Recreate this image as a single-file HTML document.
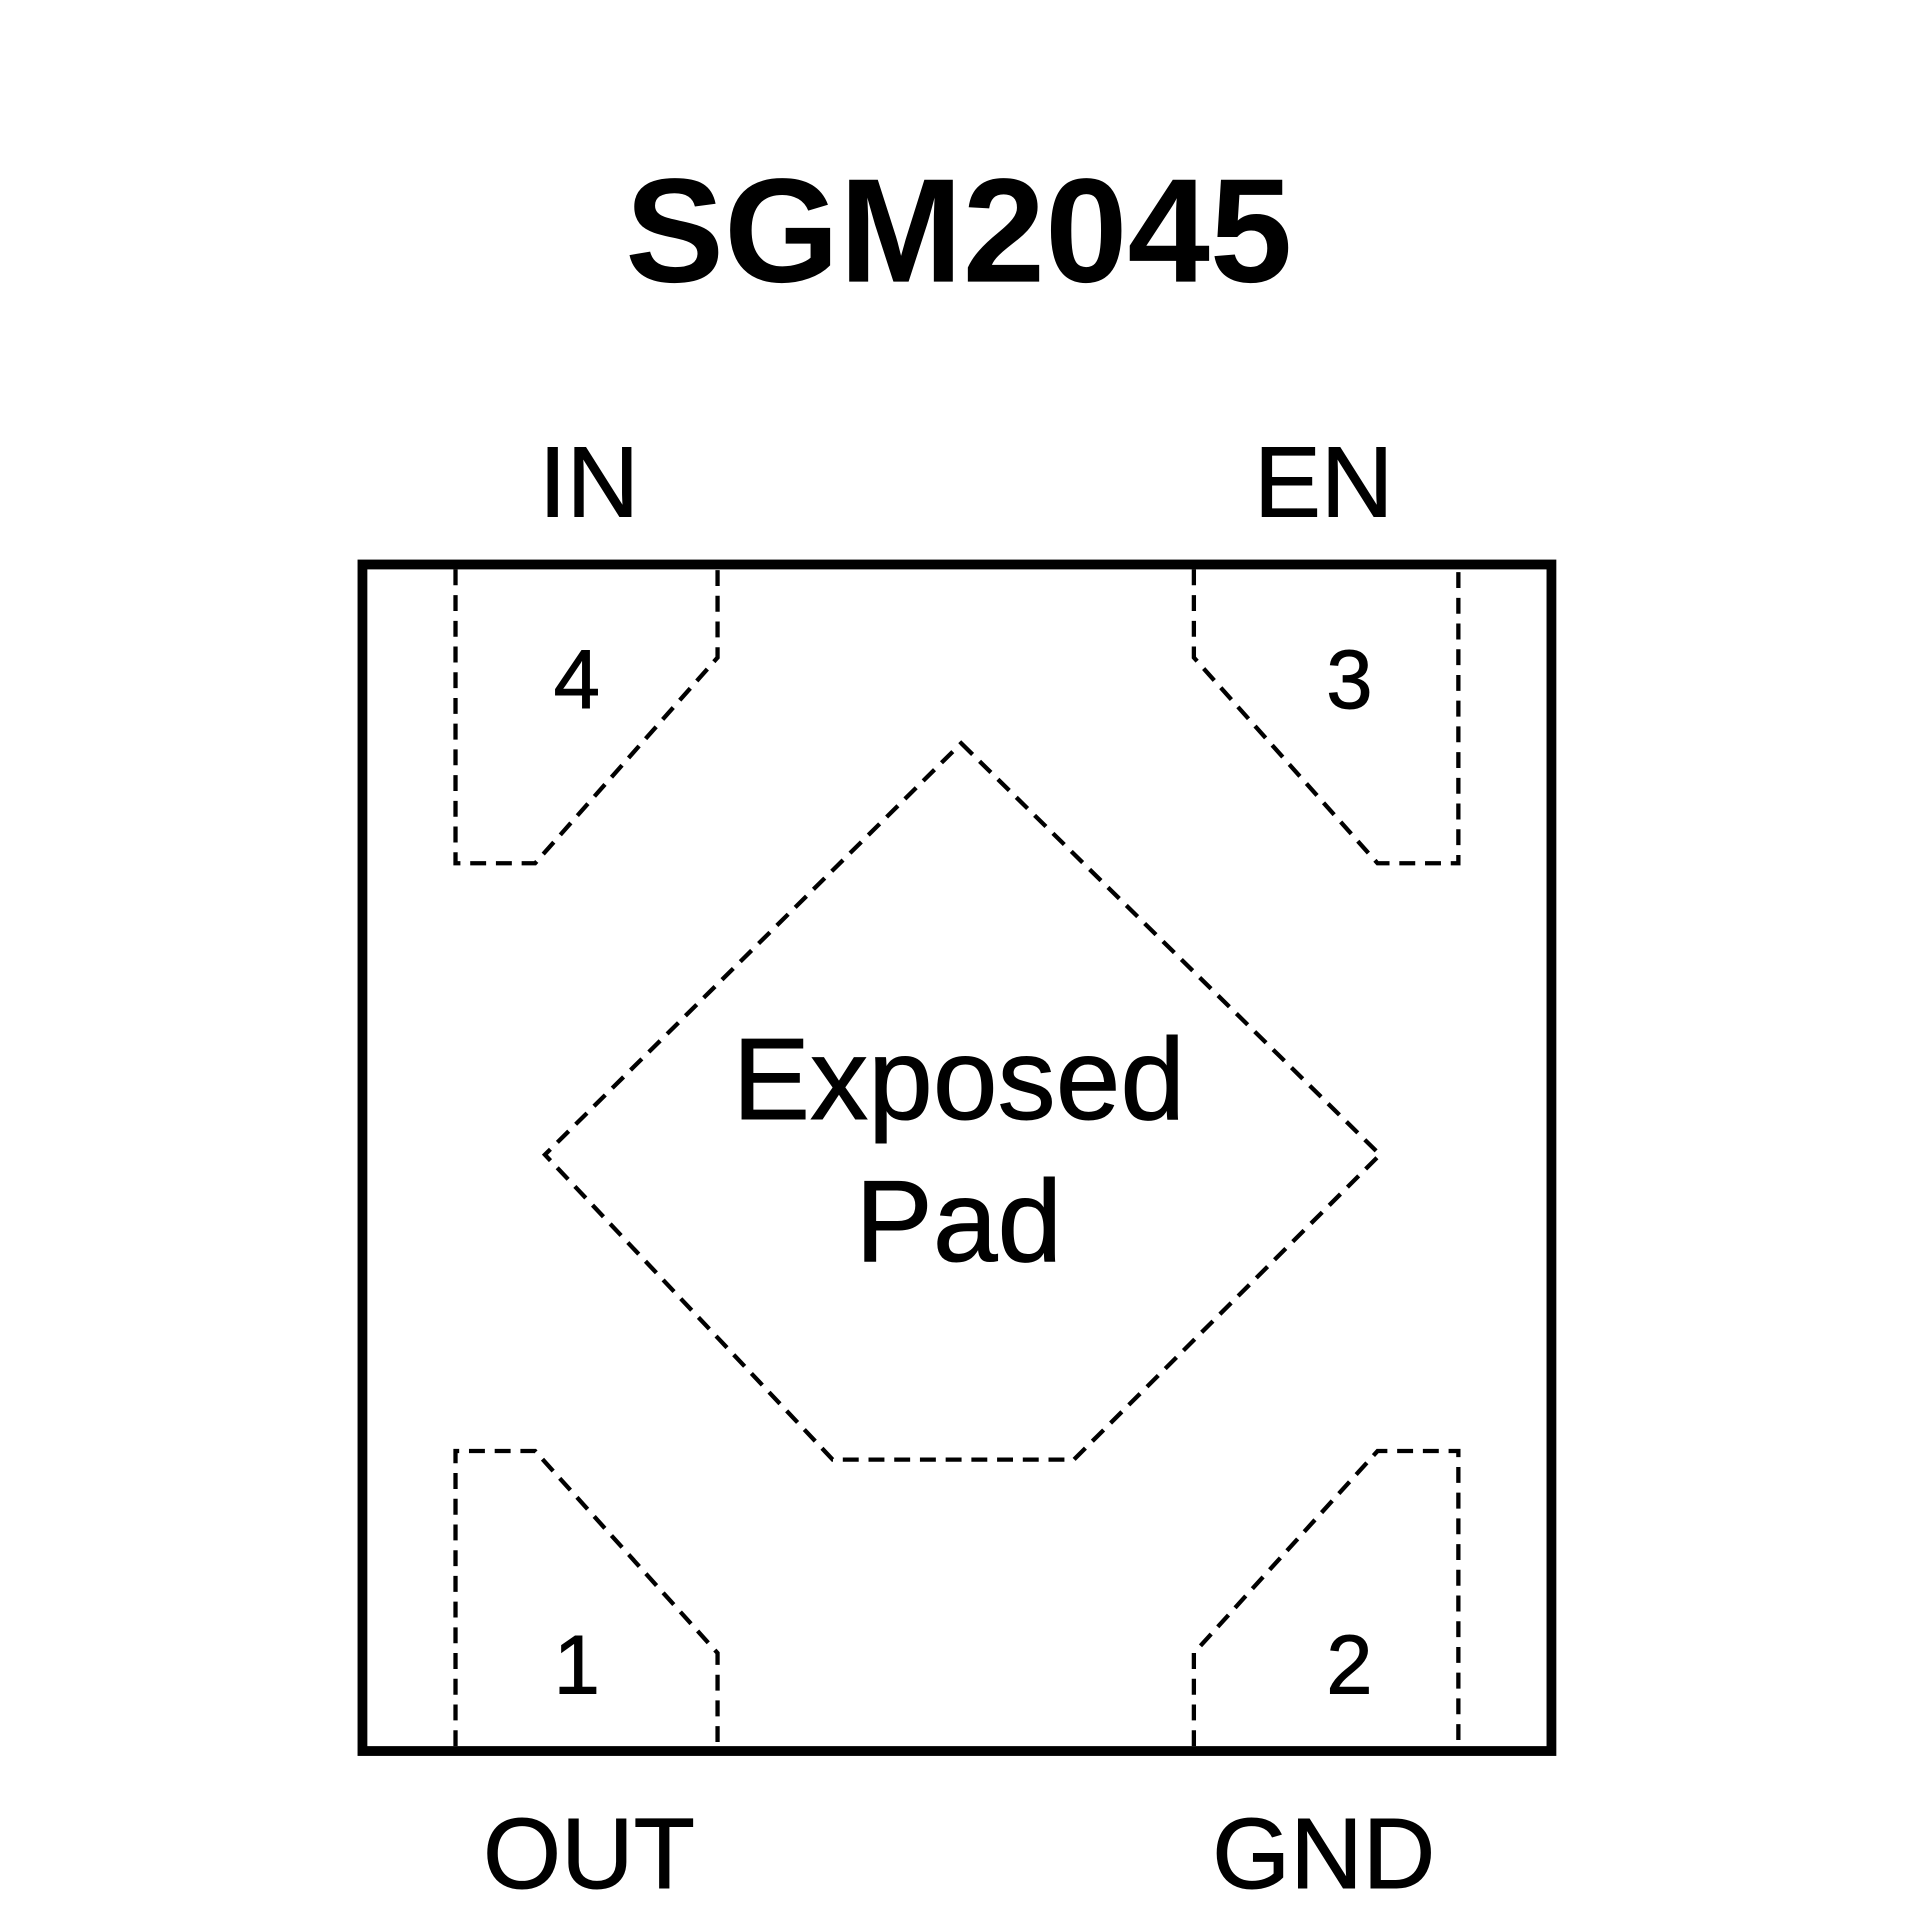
<!DOCTYPE html>
<html><head><meta charset="utf-8"><style>
html,body{margin:0;padding:0;background:#fff;}
svg{display:block;}
text{font-family:"Liberation Sans",Arial,sans-serif;fill:#000;text-anchor:middle;}
.r{stroke:#000;stroke-width:0.8;}
</style></head><body>
<svg width="1920" height="1920" viewBox="0 0 1568 1568" xmlns="http://www.w3.org/2000/svg">
<rect x="0" y="0" width="1568" height="1568" fill="#fff"/>
<text x="783" y="230" font-size="121" font-weight="bold">SGM2045</text>
<text class="r" x="481" y="422" font-size="82">IN</text>
<text class="r" x="1081" y="422" font-size="82">EN</text>
<text class="r" x="481" y="1542" font-size="82">OUT</text>
<text class="r" x="1081" y="1542" font-size="82">GND</text>
<rect x="296" y="461" width="971" height="969" fill="none" stroke="#000" stroke-width="8"/>
<g fill="none" stroke="#000" stroke-width="3.5" stroke-dasharray="13,8">
<polyline points="372,465 372,705 437,705 586,537 586,465"/>
<polyline points="975,465 975,537 1125,705 1191,705 1191,465"/>
<polyline points="372,1426 372,1185 437,1185 586,1350 586,1426"/>
<polyline points="975,1426 975,1350 1125,1185 1191,1185 1191,1426"/>
<polygon points="785,607 1127,943 877,1192 680,1192 445,943"/>
</g>
<text class="r" x="471" y="578" font-size="68">4</text>
<text class="r" x="1102" y="578" font-size="68">3</text>
<text class="r" x="471" y="1383" font-size="68">1</text>
<text class="r" x="1102" y="1383" font-size="68">2</text>
<text class="r" x="783" y="914" font-size="95">Exposed</text>
<text class="r" x="783" y="1030" font-size="95">Pad</text>
</svg>
</body></html>
